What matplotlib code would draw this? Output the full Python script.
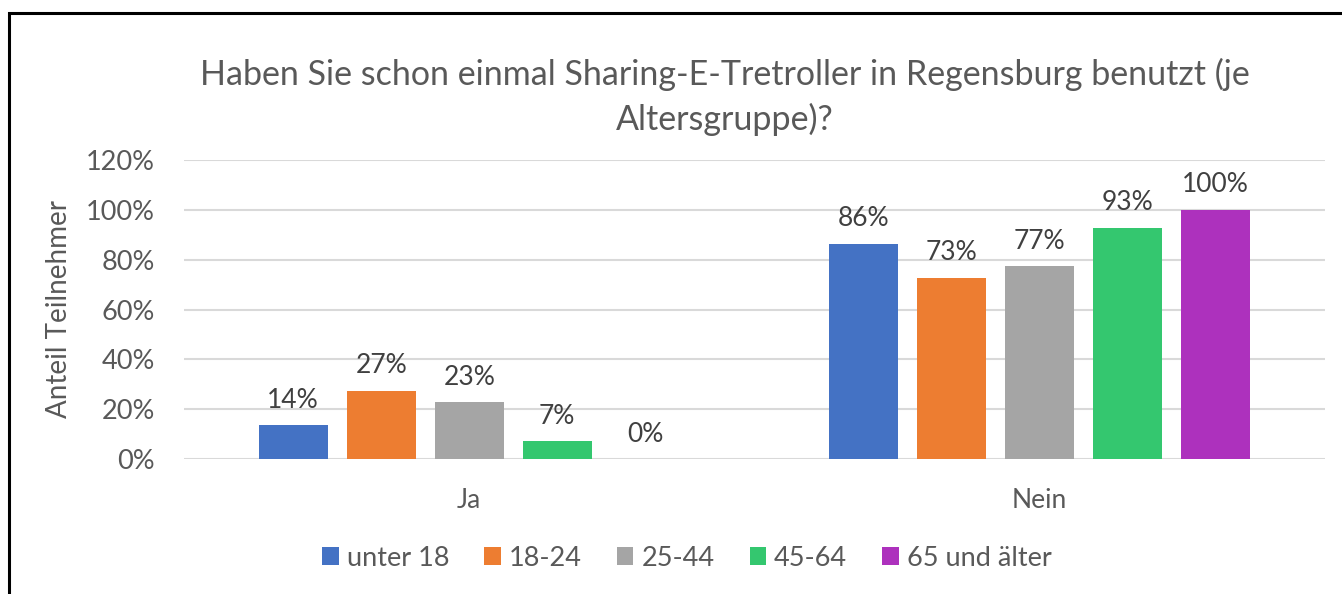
import matplotlib
matplotlib.use("Agg")
import matplotlib.pyplot as plt
from matplotlib.patches import Rectangle
import numpy as np

plt.rcParams['font.family'] = ['Lato', 'DejaVu Sans']

# data
categories = ['Ja', 'Nein']
groups = ['unter 18', '18-24', '25-44', '45-64', '65 und älter']
values = {
    'unter 18': [13.6, 86.4],
    '18-24': [27.3, 72.7],
    '25-44': [22.7, 77.3],
    '45-64': [7.1, 92.9],
    '65 und älter': [0.0, 100.0],
}
colors = ['#4472C4', '#ED7D31', '#A5A5A5', '#34C76F', '#AD31BD']
yticks = [0, 20, 40, 60, 80, 100, 120]

W, H = 1342, 594
fig = plt.figure(figsize=(W / 100, H / 100), dpi=100)

# frame of the chart (cut off at right and bottom in the screenshot)
fig.patches.append(Rectangle((9 / W, -0.1), 1.2, 1 - 13 / H + 0.1, transform=fig.transFigure,
                             fill=False, edgecolor='black', linewidth=2.2))

ax = fig.add_axes([184 / W, 135 / H, (1325 - 184) / W, 299 / H])

x = np.arange(len(categories))
step = 0.1543
width = 0.121
text_col = '#595959'
for i, g in enumerate(groups):
    pos = x + (i - 2) * step
    bars = ax.bar(pos, values[g], width=width, color=colors[i], label=g, zorder=3)
    for b, v in zip(bars, values[g]):
        ax.annotate(f'{v:.0f}%', (b.get_x() + b.get_width() / 2, v),
                    xytext=(0, 9), textcoords='offset points', ha='center', va='bottom',
                    fontsize=19, color='#404040')

ax.set_xlim(-0.5, 1.5)
ax.set_ylim(0, 120)
ax.set_yticks(yticks)
ax.set_yticklabels([f'{t}%' for t in yticks], fontsize=19.5, color=text_col)
ax.set_xticks(x)
ax.set_xticklabels(categories, fontsize=19, color=text_col)
ax.tick_params(axis='both', length=0)
ax.tick_params(axis='x', pad=21)
ax.tick_params(axis='y', pad=21)
ax.grid(axis='y', color='#D9D9D9', linewidth=1.5, zorder=0)
for s in ax.spines.values():
    s.set_visible(False)
ax.set_ylabel('Anteil Teilnehmer', fontsize=20, color=text_col, labelpad=10)

fig.text(725 / W, 1 - 97 / H, 'Haben Sie schon einmal Sharing-E-Tretroller in Regensburg benutzt (je\nAltersgruppe)?',
         ha='center', va='center', fontsize=24.5, color=text_col, linespacing=1.45)

fig.legend(loc='center', bbox_to_anchor=(687 / W, 1 - 558 / H), ncol=5, frameon=False,
           fontsize=19.5, labelcolor=text_col, handlelength=0.6, handleheight=0.6,
           handletextpad=0.3, columnspacing=1.3)

fig.savefig('out.png', dpi=100)
